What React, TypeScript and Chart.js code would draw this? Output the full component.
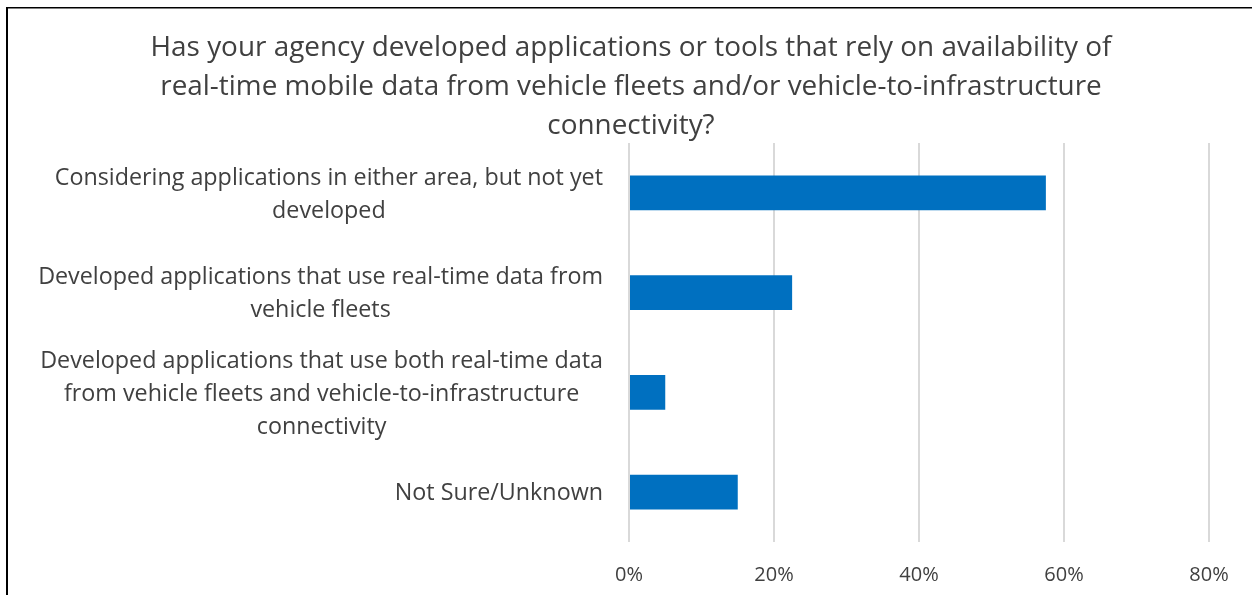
import React, { useEffect, useRef } from "react";
import { Chart, registerables } from "chart.js";

Chart.register(...registerables);

const titleLines: string[] = [
  "Has your agency developed applications or tools that rely on availability of",
  "real-time mobile data from vehicle fleets and/or vehicle-to-infrastructure",
  "connectivity?",
];

const categories: string[][] = [
  ["Considering applications in either area, but not yet", "developed"],
  ["Developed applications that use real-time data from", "vehicle fleets"],
  [
    "Developed applications that use both real-time data",
    "from vehicle fleets and vehicle-to-infrastructure",
    "connectivity",
  ],
  ["Not Sure/Unknown"],
];

const values: number[] = [57.5, 22.5, 5, 15];

const xTicks: number[] = [0, 20, 40, 60, 80];

const FONT = "'Open Sans', 'Noto Sans', sans-serif";
const TEXT = "#404040";

const decorPlugin = {
  id: "decor",
  beforeDraw(chart: any) {
    const ctx = chart.ctx;
    ctx.save();
    ctx.fillStyle = "#ffffff";
    ctx.fillRect(0, 0, chart.width, chart.height);
    ctx.restore();
  },
  afterDraw(chart: any) {
    const ctx = chart.ctx;
    ctx.save();
    // frame
    ctx.fillStyle = "#000000";
    ctx.fillRect(6, 7, chart.width - 6, 1.5);
    ctx.fillRect(6, 7, 2, chart.height - 7);

    // title
    ctx.fillStyle = TEXT;
    ctx.font = `27.9px ${FONT}`;
    ctx.textAlign = "center";
    ctx.textBaseline = "middle";
    titleLines.forEach((line, i) => {
      ctx.fillText(line, 631, 48.5 + i * 39);
    });

    // category labels
    const y = chart.scales.y;
    ctx.font = `23.3px ${FONT}`;
    const lh = 33;
    const right = 603;
    categories.forEach((lines, i) => {
      const cy = y.getPixelForValue(i) + 1.5;
      const w = Math.max(...lines.map((l) => ctx.measureText(l).width));
      const cx = right - w / 2;
      const y0 = cy - ((lines.length - 1) * lh) / 2;
      lines.forEach((l, j) => {
        ctx.fillText(l, cx, y0 + j * lh);
      });
    });
    ctx.restore();
  },
};

export default function App() {
  const ref = useRef<HTMLCanvasElement | null>(null);
  useEffect(() => {
    if (!ref.current) return;
    const chart = new Chart(ref.current, {
      type: "bar",
      data: {
        labels: categories.map((c) => c.join(" ")),
        datasets: [
          {
            data: values,
            backgroundColor: "#0070C0",
            borderWidth: 0,
            barPercentage: 0.35,
            categoryPercentage: 1,
          },
        ],
      },
      options: {
        indexAxis: "y",
        animation: false,
        responsive: false,
        layout: { padding: { left: 629, right: 43, top: 143, bottom: 0 } },
        plugins: {
          legend: { display: false },
          title: { display: false },
          tooltip: { enabled: false },
        },
        scales: {
          x: {
            min: 0,
            max: 80,
            afterBuildTicks: (scale: any) => {
              scale.ticks = xTicks.map((v) => ({ value: v }));
            },
            afterFit: (scale: any) => {
              scale.height = 53;
            },
            grid: { color: "#d9d9d9", lineWidth: 2, drawTicks: false },
            border: { display: false },
            ticks: {
              padding: 21,
              color: TEXT,
              font: { family: FONT, size: 20 },
              callback: (v: any) => `${v}%`,
            },
          },
          y: {
            afterFit: (scale: any) => {
              scale.width = 0;
            },
            grid: { display: false },
            border: { display: false },
            ticks: { display: false },
          },
        },
      },
      plugins: [decorPlugin],
    });
    return () => chart.destroy();
  }, []);
  return (
    <div style={{ position: "fixed", left: 0, top: 0, width: 1252, height: 595 }}>
      <canvas ref={ref} width={1252} height={595} style={{ display: "block" }} />
    </div>
  );
}
